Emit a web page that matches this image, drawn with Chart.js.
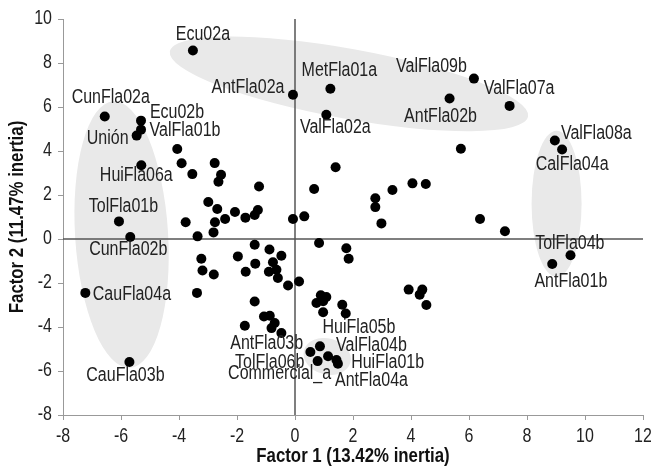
<!DOCTYPE html>
<html><head><meta charset="utf-8">
<script src="https://cdn.jsdelivr.net/npm/chart.js@4/dist/chart.umd.min.js"></script>
<style>html,body{margin:0;padding:0;background:#fff;}#wrap{width:651px;height:470px;}</style>
</head><body>
<div id="wrap"><canvas id="c" width="651" height="470"></canvas></div>
<script>
// ---------- DATA ----------
const sampleNames = [
  'Ecu02a','AntFla02a','MetFla01a','ValFla02a','ValFla09b','AntFla02b','ValFla07a',
  'ValFla08a','CalFla04a','TolFla04b','AntFla01b',
  'CunFla02a','Ecu02b','ValFla01b','Unión','HuiFla06a','TolFla01b','CunFla02b','CauFla04a','CauFla03b',
  'AntFla03b','TolFla06b','Commercial_a','HuiFla05b','ValFla04b','HuiFla01b','AntFla04a',
  '','','','','','','','','','','','','','','','','','','','','','','','','','','','','','','','','','','','','','','','','','','','','','','','','','','','','','','','','','','','','','',''
];
const factor1 = [
  -3.52,-0.07,1.22,1.08,6.17,5.33,7.40,
  8.96,9.21,9.50,8.87,
  -6.56,-5.31,-5.31,-5.46,-5.30,-6.07,-5.68,-7.23,-5.71,
  -0.47,0.53,0.78,0.86,1.14,1.48,1.43,
  5.72,6.38,7.24,-4.06,-3.91,-3.54,-2.77,-2.55,-2.64,-1.24,-2.99,-2.68,-2.41,-2.07,-1.71,-1.39,-1.28,
  -3.77,-2.76,-2.81,-3.36,-0.07,0.32,-1.39,-0.88,-3.23,-1.97,-0.47,-0.76,-1.37,-3.19,-2.80,-1.70,
  -0.90,-0.64,-0.59,-0.24,0.14,-3.38,-1.39,-1.07,-0.87,-0.70,-0.81,-1.73,1.40,0.66,2.77,2.77,2.98,
  3.36,4.05,4.51,0.83,1.77,1.85,0.89,1.08,0.74,0.97,0.97,1.63,1.75,3.92,4.39,4.30,4.53
];
const factor2 = [
  8.57,6.56,6.83,5.65,7.29,6.39,6.05,
  4.48,4.07,-0.74,-1.14,
  5.57,5.38,4.97,4.70,3.35,0.80,0.09,-2.45,-5.59,
  -4.27,-5.14,-5.55,-4.88,-5.33,-5.67,-5.50,
  4.10,0.91,0.35,4.09,3.44,2.95,3.45,2.92,2.60,2.39,1.68,1.36,0.91,1.23,0.97,1.09,1.32,
  0.76,0.76,0.30,0.12,0.91,1.03,-0.26,-0.48,-0.90,-0.79,-0.76,-1.06,-1.12,-1.43,-1.61,-1.49,
  -1.49,-1.40,-1.77,-2.11,-1.93,-2.45,-2.84,-3.52,-3.49,-3.82,-4.05,-3.94,3.26,2.27,1.85,1.45,0.71,
  2.23,2.53,2.50,-0.18,-0.42,-0.90,-2.56,-2.64,-2.91,-2.83,-3.33,-2.99,-3.39,-2.30,-2.30,-2.53,-3.00
];
const xTickValues = [-8,-6,-4,-2,0,2,4,6,8,10,12];
const yTickValues = [-8,-6,-4,-2,0,2,4,6,8,10];
const xAxisTitle = 'Factor 1 (13.42% inertia)';
const yAxisTitle = 'Factor 2 (11.47% inertia)';

// ---------- STYLE / LAYOUT ----------
const FONT = "'Liberation Sans',Arial,sans-serif";
const FS = 19.5;
const TITLE_FS = 20.5;
const NARROW = 0.82;   // horizontal condensing of all text (narrow typeface look)
// label offsets in px relative to the point: [dx, dy]  (text centred)
const labelOffsets = {
  'Ecu02a':[10,-16],'AntFla02a':[-45,-7],'MetFla01a':[9,-18],'ValFla02a':[9,12.5],
  'ValFla09b':[-42.5,-12],'AntFla02b':[-9,18],'ValFla07a':[9.5,-17],
  'ValFla08a':[41.5,-7],'CalFla04a':[10,15.5],'TolFla04b':[-0.7,-12],'AntFla01b':[18.6,17.4],
  'CunFla02a':[6,-19],'Ecu02b':[36,-7.7],'ValFla01b':[44,1],'Unión':[-29,2.7],
  'HuiFla06a':[-5,10],'TolFla01b':[4.5,-14.7],'CunFla02b':[-2,12.2],'CauFla04a':[46.6,1.7],
  'CauFla03b':[-4,14],'AntFla03b':[-14.7,10.5],'TolFla06b':[-40.7,10.2],'Commercial_a':[-38,13],
  'HuiFla05b':[39,-19],'ValFla04b':[43.4,-11],'HuiFla01b':[49.7,-0.7],'AntFla04a':[35,20.5]
};
// shaded groups: centre in axis units, radii in px, rotation in degrees
const groupShapes = [
  {cx:1.86, cy:7.05, rx:182, ry:35, rot:10.3},
  {cx:-5.98, cy:0.20, rx:46.5, ry:133.5, rot:-3.6},
  {cx:9.02, cy:1.60, rx:25, ry:73, rot:0},
  {cx:1.11, cy:-5.34, rx:24, ry:18, rot:15}
];

const points = factor1.map((x,i)=>({x:x, y:factor2[i]}));

const canvas = document.getElementById('c');
const c2d = canvas.getContext('2d');
const baseFillText = c2d.fillText.bind(c2d);
c2d.fillText = function(t, x, y){
  this.save();
  this.translate(x, y);
  this.scale(NARROW, 1);
  baseFillText(t, 0, 0);
  this.restore();
};

const shapesPlugin = {
  id:'shapes',
  beforeDatasetsDraw(chart){
    const {ctx, chartArea:a, scales:{x, y}} = chart;
    ctx.save();
    ctx.fillStyle = '#e9e9e9';
    groupShapes.forEach(g=>{
      ctx.beginPath();
      ctx.ellipse(x.getPixelForValue(g.cx), y.getPixelForValue(g.cy), g.rx, g.ry, g.rot*Math.PI/180, 0, Math.PI*2);
      ctx.fill();
    });
    ctx.strokeStyle = '#555';
    ctx.lineWidth = 1.5;
    const x0 = x.getPixelForValue(0), y0 = y.getPixelForValue(0);
    ctx.beginPath();
    ctx.moveTo(x0, a.top); ctx.lineTo(x0, a.bottom);
    ctx.moveTo(a.left, y0); ctx.lineTo(a.right, y0);
    ctx.stroke();
    ctx.restore();
  },
  afterDatasetsDraw(chart){
    const {ctx, scales:{x, y}} = chart;
    ctx.save();
    ctx.font = FS + 'px ' + FONT;
    ctx.fillStyle = '#222';
    ctx.textAlign = 'center';
    ctx.textBaseline = 'middle';
    sampleNames.forEach((n,i)=>{
      if(!n) return;
      const off = labelOffsets[n] || [0,-14];
      ctx.fillText(n, x.getPixelForValue(factor1[i]) + off[0], y.getPixelForValue(factor2[i]) + off[1]);
    });
    ctx.restore();
  }
};

new Chart(canvas, {
  type:'scatter',
  data:{datasets:[{data:points, backgroundColor:'#000', borderWidth:0, pointRadius:5, pointHoverRadius:5}]},
  options:{
    responsive:false, animation:false,
    layout:{padding:{top:19, right:8, left:0, bottom:0}, autoPadding:false},
    plugins:{legend:{display:false}, tooltip:{enabled:false}},
    scales:{
      x:{
        type:'linear', min:-8, max:12,
        afterBuildTicks(s){ s.ticks = xTickValues.map(v=>({value:v})); },
        afterFit(s){ s.height = 55; s.paddingLeft = 0; s.paddingRight = 0; },
        grid:{drawOnChartArea:false, drawTicks:true, tickLength:5, color:'#999'},
        border:{display:true, color:'#999', width:1},
        ticks:{color:'#222', padding:5, maxRotation:0, autoSkip:false, font:{family:FONT, size:FS}},
        title:{display:true, text:xAxisTitle, color:'#111', font:{family:FONT, size:TITLE_FS, weight:'bold'}, padding:{top:0, bottom:1}}
      },
      y:{
        type:'linear', min:-8, max:10,
        afterBuildTicks(s){ s.ticks = yTickValues.map(v=>({value:v})); },
        afterFit(s){ s.width = 63; s.paddingTop = 0; s.paddingBottom = 0; },
        grid:{drawOnChartArea:false, drawTicks:true, tickLength:5, color:'#999'},
        border:{display:true, color:'#999', width:1},
        ticks:{color:'#222', padding:6, autoSkip:false, font:{family:FONT, size:FS}},
        title:{display:true, text:yAxisTitle, color:'#111', font:{family:FONT, size:TITLE_FS, weight:'bold'}, padding:{top:5, bottom:0}}
      }
    }
  },
  plugins:[shapesPlugin]
});
</script>
</body></html>
